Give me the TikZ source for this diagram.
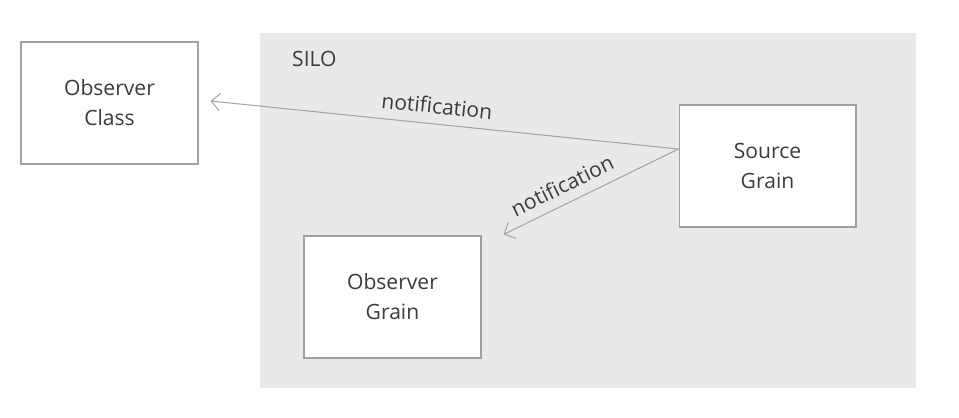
\documentclass[tikz,border=0pt]{standalone}
\usepackage{fontspec}
\setmainfont{Open Sans}
\usetikzlibrary{arrows.meta}
\definecolor{silogray}{RGB}{233,233,233}
\definecolor{boxgray}{RGB}{160,160,160}
\definecolor{linegray}{RGB}{165,165,165}
\definecolor{textgray}{RGB}{60,60,60}

\begin{document}
\begin{tikzpicture}[x=0.02cm, y=-0.02cm,
		box/.style={draw=boxgray, line width=0.6pt, fill=white, minimum width=3.54cm, minimum height=2.44cm, align=center, text=textgray, font=\fontsize{12}{17}\selectfont},
		notify/.style={draw=linegray, line width=0.6pt, -{Straight Barb[length=5pt, width=10pt]}},
		lbl/.style={sloped, above, inner sep=5.5pt, text=textgray, font=\fontsize{12}{14}\selectfont}]
		\useasboundingbox (0,0) rectangle (959,418);
		\fill[silogray] (260,33) rectangle (916,388);
		\node(silo) at (286,59) [anchor=west, text=textgray, font=\fontsize{12}{14}\selectfont] {SILO};

		\node(obsclass) at (109.5,103) [box] {Observer\\Class};
		\node(source) at (767.5,166) [box] {Source\\Grain};
		\node(obsgrain) at (392.5,297) [box] {Observer\\Grain};

		\coordinate (out) at ([yshift=0.34cm]source.west);
		\coordinate (clstip) at ([xshift=0.24cm, yshift=0.04cm]obsclass.east);
		\coordinate (grntip) at ([xshift=0.44cm, yshift=0.02cm]obsgrain.north east);

		\draw[notify] (out) -- (clstip) node[lbl, pos=0.52] {notification};
		\draw[notify] (out) -- (grntip) node[lbl, pos=0.62] {notification};
	\end{tikzpicture}
\end{document}
